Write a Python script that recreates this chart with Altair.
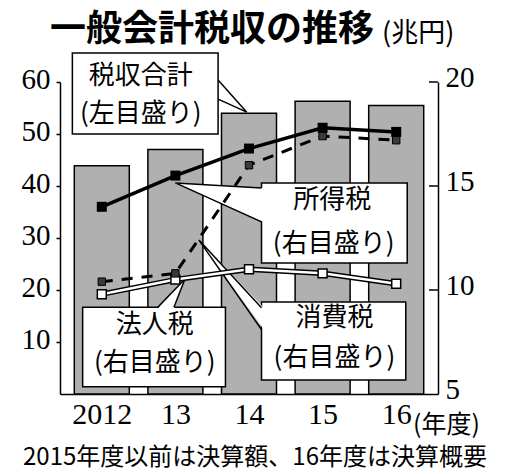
import altair as alt
import pandas as pd

# ---------------- data ----------------
years = [2012, 2013, 2014, 2015, 2016]
year_labels = ["2012", "13", "14", "15", "16"]
total_tax = [43.9, 47.0, 54.0, 56.3, 55.5]        # 税収合計 (left axis, 兆円)
income_tax = [14.0, 15.5, 16.8, 17.8, 17.6]       # 所得税 (right axis)
consumption_tax = [10.4, 10.8, 16.0, 17.4, 17.2]  # 消費税 (right axis)
corporate_tax = [9.8, 10.5, 11.0, 10.8, 10.3]     # 法人税 (right axis)
left_ticks = [10, 20, 30, 40, 50, 60]
right_ticks = [5, 10, 15, 20]

title_text = "一般会計税収の推移"
unit_text = "(兆円)"
year_unit_text = "(年度)"
footnote_text = "2015年度以前は決算額、16年度は決算概要"

df = pd.DataFrame({
    "year": years,
    "total": total_tax,
    "income": income_tax,
    "consumption": consumption_tax,
    "corporate": corporate_tax,
})

# ---------------- annotation geometry (data coordinates: year, left-scale value) ----------------
box_df = pd.DataFrame({
    "x": [2011.60, 2014.17, 2011.74, 2014.17],
    "x2": [2013.58, 2016.15, 2013.68, 2016.13],
    "y": [50.0, 25.2, 1.4, 2.7],
    "y2": [65.6, 40.6, 16.7, 17.7],
})

label_df = pd.DataFrame({
    "text": ["税収合計", "(左目盛り)", "所得税", "(右目盛り)", "法人税", "(右目盛り)", "消費税", "(右目盛り)"],
    "x": [2012.53, 2012.53, 2015.13, 2015.15, 2012.72, 2012.72, 2015.16, 2015.16],
    "y": [61.1, 53.9, 37.3, 28.8, 13.3, 5.9, 14.7, 7.0],
})

# vertical-base pointers: tip -> base on a box's vertical edge
ptr_v = pd.DataFrame({
    "g": ["p1", "p1", "p2", "p2", "p3", "p3"],
    "x": [2013.97, 2013.60, 2013.0, 2014.20, 2013.32, 2014.20],
    "y": [54.2, 60.4, 40.6, 39.6, 29.6, 16.6],
    "y2": [54.2, 56.7, 40.6, 33.1, 29.6, 12.4],
})
# horizontal-base pointer (法人税): tip -> base on the box top edge
ptr_h = pd.DataFrame({
    "g": ["p4", "p4"],
    "y": [22.1, 16.4],
    "x": [2013.13, 2012.76],
    "x2": [2013.13, 2012.98],
})
# pointer outlines (base1 -> tip -> base2)
ptr_edges = pd.DataFrame({
    "g": ["p1"] * 3 + ["p2"] * 3 + ["p3"] * 3 + ["p4"] * 3,
    "o": [0, 1, 2] * 4,
    "x": [2013.58, 2013.97, 2013.58,
          2014.17, 2013.0, 2014.17,
          2014.17, 2013.32, 2014.17,
          2012.76, 2013.13, 2012.98],
    "y": [60.4, 54.2, 56.7,
          39.6, 40.6, 33.1,
          16.6, 29.6, 12.4,
          16.7, 22.1, 16.7],
})

# ---------------- scales / axes ----------------
XDOM = [2011.5, 2016.5]
xs = alt.Scale(domain=XDOM, nice=False, zero=False)
ls = alt.Scale(domain=[0, 60], nice=False, zero=False)
rs = alt.Scale(domain=[5, 20], nice=False, zero=False)

serif = "Liberation Serif"
gothic = "Noto Sans CJK JP"

label_expr = " : ".join(
    f"datum.value == {y} ? '{l}'" for y, l in zip(years, year_labels)
) + " : ''"

x_axis = alt.Axis(values=years, labelExpr=label_expr, ticks=False, domain=True,
                  domainColor="black", domainWidth=1.5, grid=False, title=None,
                  labelFont=serif, labelFontSize=30, labelColor="black",
                  labelPadding=5, labelFlush=False, labelOverlap=False)
left_axis = alt.Axis(orient="left", values=left_ticks, tickSize=4, tickColor="black",
                     tickWidth=1.5, domainColor="black", domainWidth=1.5, grid=False,
                     title=None, labelFont=serif, labelFontSize=29, labelColor="black",
                     labelPadding=6, labelOffset=-3, labelFlush=False, labelOverlap=False)
right_axis = alt.Axis(orient="right", values=right_ticks, ticks=False,
                      domainColor="black", domainWidth=1.5, grid=False, title=None,
                      labelFont=serif, labelFontSize=29, labelColor="black",
                      labelPadding=7, labelOffset=-5, labelFlush=False, labelOverlap=False)


def X(field):
    return alt.X(field, scale=xs, axis=x_axis)


base = alt.Chart(df)

bars = base.mark_bar(size=55, fill="#b0b0b0", stroke="black", strokeWidth=1.5).encode(
    x=X("year:Q"),
    y=alt.Y("total:Q", scale=ls, axis=left_axis),
)

boxes = alt.Chart(box_df).mark_rect(fill="white", stroke="black", strokeWidth=1.5).encode(
    x=X("x:Q"), x2="x2:Q",
    y=alt.Y("y:Q", scale=ls, axis=None), y2="y2:Q",
)

ptr_fill_v = alt.Chart(ptr_v).mark_area(orient="vertical", fill="white", opacity=1).encode(
    x=X("x:Q"),
    y=alt.Y("y:Q", scale=ls, axis=None), y2="y2:Q",
    detail="g:N",
)
ptr_fill_h = alt.Chart(ptr_h).mark_area(orient="horizontal", fill="white", opacity=1).encode(
    y=alt.Y("y:Q", scale=ls, axis=None),
    x=X("x:Q"), x2="x2:Q",
    detail="g:N",
)
ptr_lines = alt.Chart(ptr_edges).mark_line(color="black", strokeWidth=1.5).encode(
    x=X("x:Q"),
    y=alt.Y("y:Q", scale=ls, axis=None),
    order="o:Q", detail="g:N",
)

labels = alt.Chart(label_df).mark_text(font=gothic, fontSize=26, color="black",
                                       align="center", baseline="middle").encode(
    x=X("x:Q"),
    y=alt.Y("y:Q", scale=ls, axis=None),
    text="text:N",
)

corp_outer = base.mark_line(color="black", strokeWidth=5.5).encode(
    x=X("year:Q"), y=alt.Y("corporate:Q", scale=rs, axis=None))
corp_inner = base.mark_line(color="white", strokeWidth=2.5).encode(
    x=X("year:Q"), y=alt.Y("corporate:Q", scale=rs, axis=None))
corp_pts = base.mark_point(shape="square", filled=True, fill="white", stroke="black",
                           strokeWidth=1.5, size=80, opacity=1).encode(
    x=X("year:Q"), y=alt.Y("corporate:Q", scale=rs, axis=None))

cons_line = base.mark_line(color="black", strokeWidth=3, strokeDash=[11, 9]).encode(
    x=X("year:Q"), y=alt.Y("consumption:Q", scale=rs, axis=None))
cons_pts = base.mark_point(shape="square", filled=True, fill="#3a3a3a", stroke="black",
                           strokeWidth=1, size=55, opacity=1).encode(
    x=X("year:Q"), y=alt.Y("consumption:Q", scale=rs, axis=None))

inc_line = base.mark_line(color="black", strokeWidth=3.5).encode(
    x=X("year:Q"), y=alt.Y("income:Q", scale=rs, axis=right_axis))
inc_pts = base.mark_point(shape="square", filled=True, color="black", size=100, opacity=1).encode(
    x=X("year:Q"), y=alt.Y("income:Q", scale=rs, axis=None))

rticks = alt.Chart(pd.DataFrame({"v": right_ticks})).transform_filter(
    "datum.v > 5").mark_rule(color="black", strokeWidth=1.5).encode(
    x=alt.value(369), x2=alt.value(378),
    y=alt.Y("v:Q", scale=rs, axis=None),
)

one = pd.DataFrame({"a": [0]})
title_mark = alt.Chart(one).mark_text(text=title_text, font=gothic, fontSize=36,
                                      fontWeight="bold", align="left", baseline="middle",
                                      color="black").encode(x=alt.value(-10), y=alt.value(-52))
unit_mark = alt.Chart(one).mark_text(text=unit_text, font=gothic, fontSize=27,
                                     align="left", baseline="middle",
                                     color="black").encode(x=alt.value(322), y=alt.value(-48))
yunit_mark = alt.Chart(one).mark_text(text=year_unit_text, font=gothic, fontSize=25,
                                      align="left", baseline="middle",
                                      color="black").encode(x=alt.value(353), y=alt.value(343))
foot_mark = alt.Chart(one).mark_text(text=footnote_text, font=gothic, fontSize=24,
                                     align="center", baseline="middle",
                                     color="black").encode(x=alt.value(195), y=alt.value(376))

chart = alt.layer(
    bars, boxes, ptr_fill_v, ptr_fill_h, ptr_lines, labels,
    corp_outer, corp_inner, cons_line, inc_line, corp_pts, cons_pts, inc_pts,
    rticks, title_mark, unit_mark, yunit_mark, foot_mark,
).resolve_scale(y="independent").properties(
    width=378, height=312,
    padding={"left": 60, "top": 82, "right": 72, "bottom": 80},
    autosize=alt.AutoSizeParams(type="none"),
    background="white",
).configure_view(strokeWidth=0)

chart.save("out.html", embed_options={"renderer": "svg", "actions": False})
